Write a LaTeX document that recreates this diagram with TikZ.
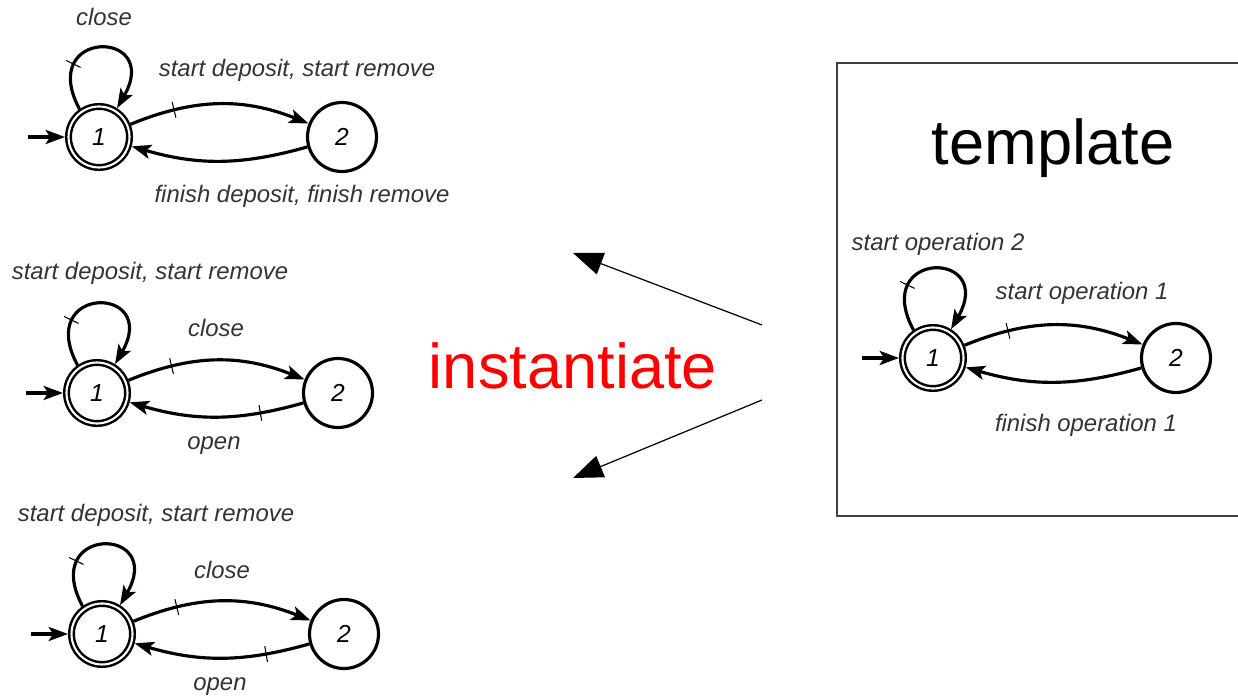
\documentclass[tikz,border=0pt]{standalone}
\usepackage{fontspec}
\setmainfont{Liberation Sans}
\usepackage{xcolor}
\usepackage{tikz}
\usetikzlibrary{arrows.meta}
\usetikzlibrary{decorations.markings}
\usetikzlibrary{calc}

\definecolor{lblgray}{HTML}{333333}
\tikzset{
  st/.style={circle,draw,line width=1.8pt,minimum size=1.38cm,inner sep=0pt,
    font=\fontsize{14}{16}\selectfont\itshape},
  acc/.style={st,double,line width=1.4pt,double distance=1.2pt,
    minimum size=1.22cm,outer sep=2pt},
  lbl/.style={font=\fontsize{13.6}{16}\selectfont\itshape,text=lblgray,inner sep=0pt},
  tk/.style={postaction={decorate,decoration={markings,
    mark=at position #1 with {\draw[-,line width=0.6pt] (0,-8) -- (0,8);}}}},
  inst/.style={line width=0.7pt,-{Triangle[length=17pt,width=13pt]}}
}

\begin{document}
\begin{tikzpicture}[x=0.02cm,y=0.02cm,line width=1.8pt,
  >={Stealth[length=11pt,width=8pt,inset=2.5pt]}]
\clip (0,0) rectangle (1238,696);

% first instance
\node[acc] (a1) at (99,559) {1};
\node[st] (a2) at ([shift={(243,0)}]a1) {2};
\coordinate (a0) at ([shift={(-71,0)}]a1);
\draw[->] (a0) -- (a1);
\draw[->,tk=0.3] (a1.125) .. controls +(118:92) and +(60:92) .. (a1.58);
\draw[->,tk=0.25] (a1) to[bend left=22] (a2);
\draw[->] (a2) to[bend left=16] (a1);
\node[lbl] (a1loop) at ([shift={(5,120)}]a1) {close};
\node[lbl] (a1to2) at ([shift={(198,67)}]a1) {start deposit, start remove};
\node[lbl] (a2to1) at ([shift={(203,-59)}]a1) {finish deposit, finish remove};

% second instance
\node[acc] (b1) at (97,303) {1};
\node[st] (b2) at ([shift={(241,0)}]b1) {2};
\coordinate (b0) at ([shift={(-71,0)}]b1);
\draw[->] (b0) -- (b1);
\draw[->,tk=0.3] (b1.125) .. controls +(118:92) and +(60:92) .. (b1.58);
\draw[->,tk=0.25] (b1) to[bend left=22] (b2);
\draw[->,tk=0.25] (b2) to[bend left=16] (b1);
\node[lbl] (b1loop) at ([shift={(53,120)}]b1) {start deposit, start remove};
\node[lbl] (b1to2) at ([shift={(119,65)}]b1) {close};
\node[lbl] (b2to1) at ([shift={(117,-53)}]b1) {open};

% third instance
\node[acc] (c1) at (102,62) {1};
\node[st] (c2) at ([shift={(242,0)}]c1) {2};
\coordinate (c0) at ([shift={(-71,0)}]c1);
\draw[->] (c0) -- (c1);
\draw[->,tk=0.3] (c1.125) .. controls +(118:92) and +(60:92) .. (c1.58);
\draw[->,tk=0.25] (c1) to[bend left=22] (c2);
\draw[->,tk=0.25] (c2) to[bend left=16] (c1);
\node[lbl] (c1loop) at ([shift={(54,119)}]c1) {start deposit, start remove};
\node[lbl] (c1to2) at ([shift={(120,64)}]c1) {close};
\node[lbl] (c2to1) at ([shift={(118,-53)}]c1) {open};

% template
\draw[line width=0.9pt,black!75] (837,180) rectangle (1260,633);
\node[anchor=base,font=\fontsize{36}{40}\selectfont] (title) at (1053,531) {template};
\node[acc] (t1) at (933,338) {1};
\node[st] (t2) at ([shift={(243,0)}]t1) {2};
\coordinate (t0) at ([shift={(-71,0)}]t1);
\draw[->] (t0) -- (t1);
\draw[->,tk=0.3] (t1.125) .. controls +(118:92) and +(60:92) .. (t1.58);
\draw[->,tk=0.25] (t1) to[bend left=22] (t2);
\draw[->] (t2) to[bend left=16] (t1);
\node[lbl] (t1loop) at ([shift={(5,114)}]t1) {start operation 2};
\node[lbl] (t1to2) at ([shift={(149,65)}]t1) {start operation 1};
\node[lbl] (t2to1) at ([shift={(153,-67)}]t1) {finish operation 1};

% instantiate
\node[anchor=base,text=red,font=\fontsize{36}{40}\selectfont] (instlbl) at (573,307) {instantiate};
\coordinate (up0) at (762,371);
\coordinate (up1) at (573,443);
\coordinate (dn0) at (762,296);
\coordinate (dn1) at (573,218);
\draw[inst] (up0) -- (up1);
\draw[inst] (dn0) -- (dn1);

\end{tikzpicture}
\end{document}
